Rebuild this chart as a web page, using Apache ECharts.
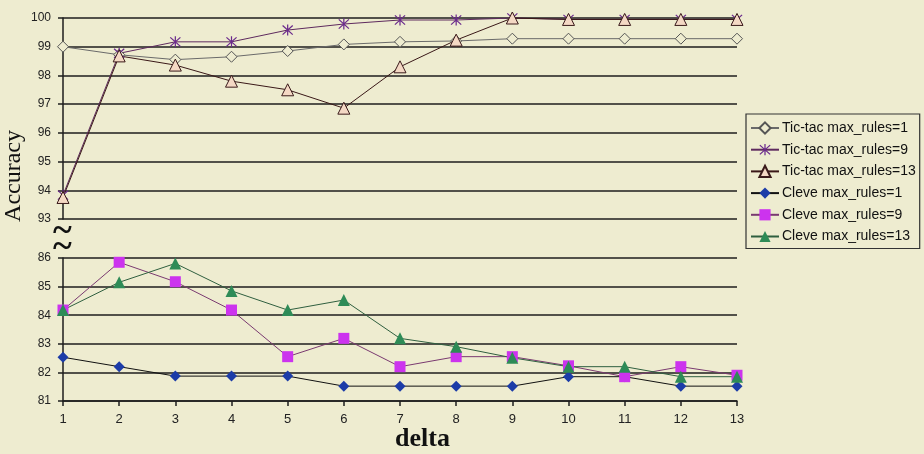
<!DOCTYPE html>
<html>
<head>
<meta charset="utf-8">
<script src="https://cdn.jsdelivr.net/npm/echarts@6/dist/echarts.min.js"></script>
<style>
html,body{margin:0;padding:0;background:#EEECD0;}
#chart{width:924px;height:454px;}
</style>
</head>
<body>
<div id="chart"></div>
<script>
const deltas = ['1','2','3','4','5','6','7','8','9','10','11','12','13'];
const upperTicks = [93, 94, 95, 96, 97, 98, 99, 100];
const lowerTicks = [81, 82, 83, 84, 85, 86];
const seriesNames = ['Tic-tac max_rules=1','Tic-tac max_rules=9','Tic-tac max_rules=13','Cleve max_rules=1','Cleve max_rules=9','Cleve max_rules=13'];
const ticTac1 = [99.0, 98.72, 98.55, 98.65, 98.85, 99.08, 99.17, 99.2, 99.28, 99.28, 99.28, 99.28, 99.28];
const ticTac9 = [93.83, 98.77, 99.17, 99.17, 99.58, 99.79, 99.93, 99.93, 100, 99.95, 99.95, 99.95, 99.95];
const ticTac13 = [93.75, 98.68, 98.36, 97.8, 97.5, 96.86, 98.3, 99.23, 100, 99.95, 99.95, 99.95, 99.95];
const cleve1 = [82.53, 82.2, 81.87, 81.87, 81.87, 81.52, 81.52, 81.52, 81.52, 81.85, 81.85, 81.52, 81.52];
const cleve9 = [84.18, 85.85, 85.17, 84.18, 82.55, 83.19, 82.2, 82.55, 82.55, 82.23, 81.85, 82.2, 81.9];
const cleve13 = [84.18, 85.15, 85.81, 84.85, 84.18, 84.53, 83.19, 82.9, 82.51, 82.2, 82.2, 81.85, 81.85];

const asterisk = 'path://M9,0 L11,0 L11,20 L9,20 Z M1,2.4 L2.4,1 L19,17.6 L17.6,19 Z M17.6,1 L19,2.4 L2.4,19 L1,17.6 Z';
const gridCol = '#1e1e1e';
const lab = {color:'#222', fontFamily:'Liberation Sans, Arial, sans-serif'};

function yAxisFor(gi, ticks){
  return {
    type:'value', gridIndex:gi, min:ticks[0], max:ticks[ticks.length-1], interval:1,
    axisLine:{show:true, lineStyle:{color:gridCol, width:1.5}},
    axisTick:{show:true, length:5, lineStyle:{color:gridCol, width:1.5}},
    axisLabel:Object.assign({fontSize:12, margin:12}, lab),
    splitLine:{show:true, lineStyle:{color:gridCol, width:1.5}}
  };
}

function mk(name, data, gi, opts){
  return Object.assign({
    name:name, type:'line', xAxisIndex:gi, yAxisIndex:gi, data:data,
    clip:false, animation:false
  }, opts);
}

const option = {
  backgroundColor:'#EEECD0',
  animation:false,
  grid:[
    {left:63, right:187, top:18, height:201},
    {left:63, right:187, top:258, height:143}
  ],
  xAxis:[
    {type:'category', gridIndex:0, data:deltas, boundaryGap:false, show:false},
    {type:'category', gridIndex:1, data:deltas, boundaryGap:false,
     axisLine:{show:true, lineStyle:{color:gridCol, width:1.5}},
     axisTick:{show:true, length:5, alignWithLabel:true, lineStyle:{color:gridCol, width:1.5}},
     axisLabel:Object.assign({fontSize:13, margin:12}, lab),
     splitLine:{show:false}}
  ],
  yAxis:[yAxisFor(0, upperTicks), yAxisFor(1, lowerTicks)],
  legend:{
    orient:'vertical', left:746, top:114,
    padding:[7,4,5,4], itemGap:7.7, itemWidth:28, itemHeight:14,
    borderColor:'#333', borderWidth:1.2, backgroundColor:'#EEECD0',
    textStyle:{fontSize:14, color:'#111', fontFamily:'Liberation Sans, Arial, sans-serif', padding:[0,0,0,-2]},
    data:seriesNames
  },
  series:[
    mk(seriesNames[0], ticTac1, 0, {symbol:'diamond', symbolSize:11,
      lineStyle:{color:'#6a6a6a', width:1}, itemStyle:{color:'#EEECD0', borderColor:'#555', borderWidth:1}}),
    mk(seriesNames[1], ticTac9, 0, {symbol:asterisk, symbolSize:11,
      lineStyle:{color:'#5e2a5e', width:1}, itemStyle:{color:'#6b2a8c', borderWidth:0}}),
    mk(seriesNames[2], ticTac13, 0, {symbol:'triangle', symbolSize:12,
      lineStyle:{color:'#3a1818', width:1}, itemStyle:{color:'#F4D8C4', borderColor:'#3a1a1a', borderWidth:1}}),
    mk(seriesNames[3], cleve1, 1, {symbol:'diamond', symbolSize:11,
      lineStyle:{color:'#111', width:1}, itemStyle:{color:'#1c3ca8', borderWidth:0}}),
    mk(seriesNames[4], cleve9, 1, {symbol:'rect', symbolSize:11,
      lineStyle:{color:'#7a3a70', width:1}, itemStyle:{color:'#cc33ee', borderWidth:0}}),
    mk(seriesNames[5], cleve13, 1, {symbol:'triangle', symbolSize:12,
      lineStyle:{color:'#2f5f3f', width:1}, itemStyle:{color:'#2e8b57', borderWidth:0}})
  ],
  graphic:[
    {type:'text', left:2, top:130, rotation:Math.PI/2, style:{text:'Accuracy', font:'24px "Liberation Serif", "Times New Roman", serif', fill:'#111'}, originX:0, originY:0},
    {type:'text', left:395, top:426, style:{text:'delta', font:'bold 26px "Liberation Serif", "Times New Roman", serif', fill:'#111'}},
    {type:'text', left:53, top:214, style:{text:'~', font:'bold 36px "Liberation Serif", serif', fill:'#111'}},
    {type:'text', left:53, top:230, style:{text:'~', font:'bold 36px "Liberation Serif", serif', fill:'#111'}}
  ]
};
const chart = echarts.init(document.getElementById('chart'), null, {renderer:'canvas'});
chart.setOption(option);
</script>
</body>
</html>
